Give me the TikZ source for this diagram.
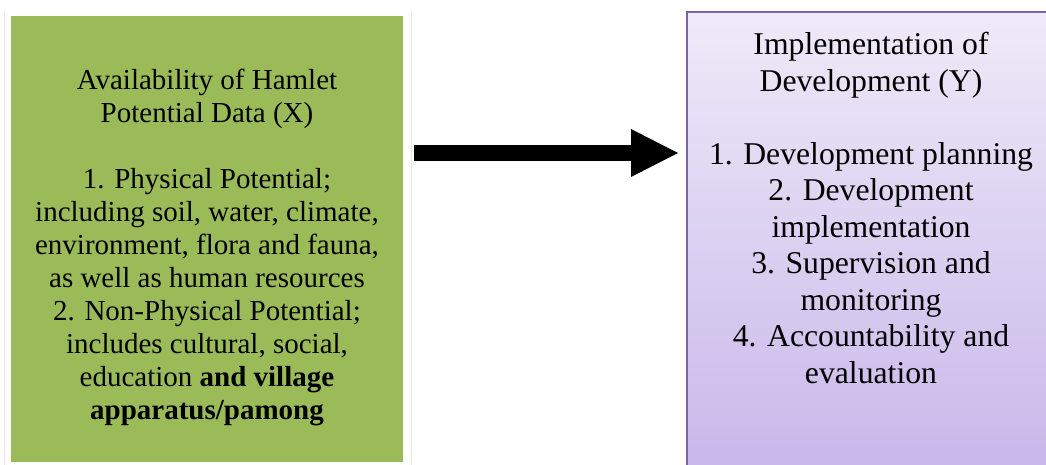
\documentclass[tikz,border=0pt]{standalone}
\usepackage{fontspec}
\setmainfont{LiberationSerif}[Extension=.ttf, UprightFont=*-Regular, BoldFont=*-Bold, ItalicFont=*-Italic, BoldItalicFont=*-BoldItalic]
\usetikzlibrary{arrows.meta}
\definecolor{hgreen}{HTML}{9BBB59}
\definecolor{ptop}{HTML}{EFEAF8}
\definecolor{pbot}{HTML}{C8B7EA}
\definecolor{pborder}{HTML}{8064A2}
\definecolor{faintgray}{HTML}{E6E6E6}
\tikzset{
  greenbox/.style={fill=hgreen, draw=none, inner sep=0pt},
  purplebox/.style={top color=ptop, bottom color=pbot, draw=pborder, line width=1.5pt, inner sep=0pt},
  lefttext/.style={align=center, inner sep=0pt, font=\rmfamily\fontsize{29}{33}\selectfont},
  righttext/.style={align=center, inner sep=0pt, font=\rmfamily\fontsize{31.7}{36.5}\selectfont},
  bigarrow/.style={line width=16pt, -{Triangle[length=47pt,width=48pt,line width=0pt]}},
  faintline/.style={draw=faintgray, line width=1pt}
}
\begin{document}
\begin{tikzpicture}[x=1pt,y=-1pt]
\useasboundingbox (0,0) rectangle (1046,465);
\draw[faintline] (4,12) -- (4,465);
\draw[faintline] (411.5,12) -- (411.5,465);
\node[greenbox, minimum width=392pt, minimum height=446pt] (X) at (207,239) {};
\node[purplebox, minimum width=373pt, minimum height=463pt] (Y) at (873.5,243.5) {};
\node[lefttext, anchor=base] (xt) at (207,419) {Availability of Hamlet\\
Potential Data (X)\\[33pt]
1. Physical Potential;\\
including soil, water, climate,\\
environment, flora and fauna,\\
as well as human resources\\
2. Non-Physical Potential;\\
includes cultural, social,\\
education \textbf{and village}\\
\textbf{apparatus/pamong}};
\node[righttext, anchor=base] (yt) at (871,383) {Implementation of\\
Development (Y)\\[36.5pt]
1. Development planning\\
2. Development\\
implementation\\
3. Supervision and\\
monitoring\\
4. Accountability and\\
evaluation};
\coordinate (as) at ([xshift=11pt,yshift=86pt]X.east);
\coordinate (ae) at ([xshift=-8.25pt]as -| Y.west);
\draw[bigarrow] (as) -- (ae);
\end{tikzpicture}
\end{document}
